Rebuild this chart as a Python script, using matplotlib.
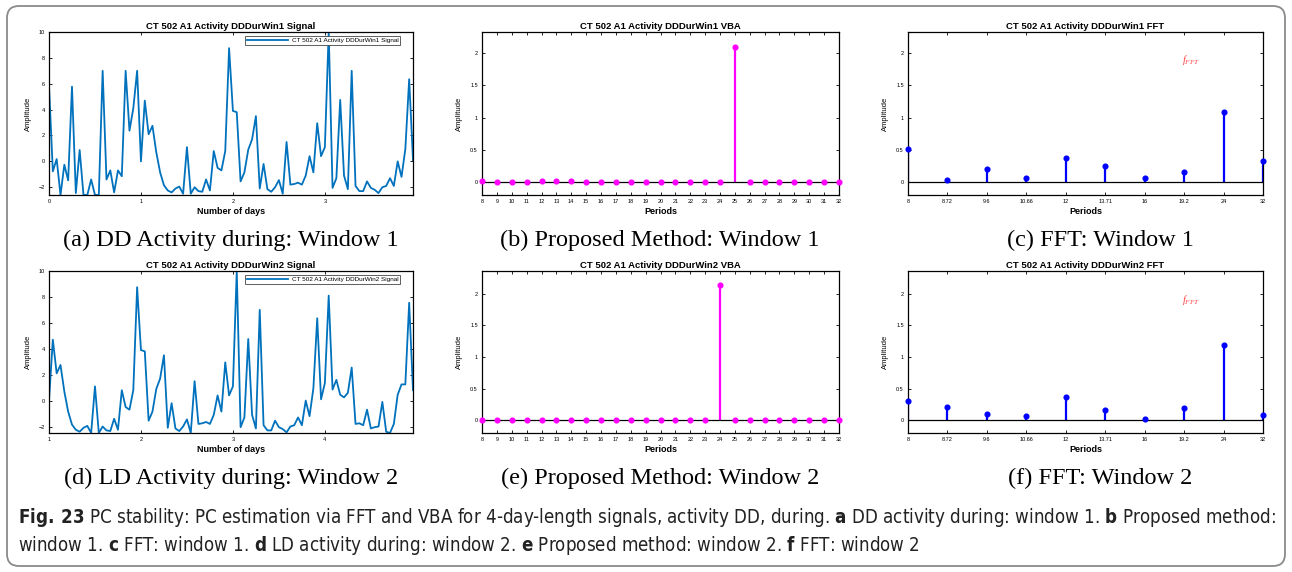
import matplotlib

matplotlib.use("Agg")
import matplotlib.pyplot as plt
import numpy as np
from matplotlib import font_manager
from matplotlib.patches import FancyBboxPatch
from matplotlib.transforms import IdentityTransform

W, H = 1292, 572

# 시간당 활동량 (샘플 0..119). 창1 = 0..95, 창2 = 24..119 (하루 밀림)
SIGNAL = [
    5.85, -0.77, 0.18, -2.6, -0.26, -1.47, 5.77, -2.45, 0.88, -2.6, -2.6, -1.4,
    -2.6, -2.6, 7.0, -1.4, -0.7, -2.4, -0.7, -1.15, 7.0, 2.37, 4.1, 7.0,
    0.0, 4.7, 2.1, 2.75, 0.7, -0.85, -1.85, -2.25, -2.4, -2.1,
    -1.95, -2.5, 1.1, -2.5, -2.0, -2.3, -2.35, -1.4, -2.25, 0.8,
    -0.5, -0.7, 0.8, 8.75, 3.9, 3.8, -1.55, -0.85, 0.9, 1.7,
    3.5, -2.1, -0.2, -2.15, -2.35, -2.0, -1.45, -2.5, 1.5, -1.8,
    -1.75, -1.65, -1.8, -1.1, 0.4, -0.85, 2.95, 0.4, 1.1, 10.0,
    -2.05, -1.3, 4.75, -1.1, -2.15, 7.0, -1.9, -2.3, -2.3, -1.55,
    -2.05, -2.2, -2.45, -2.0, -1.9, -1.3, -1.9, 0.0, -1.2, 0.95,
    6.35, 0.1, 1.35, 8.1, 0.85, 1.6, 0.45, 0.25, 0.6, 2.55,
    -1.8, -1.75, -1.9, -0.7, -2.15, -2.05, -2.0, -0.1, -2.4, -2.5,
    -1.8, 0.45, 1.25, 1.25, 7.55, 0.8,
]
WIN_START = [0, 24]          # 창 시작 샘플
WIN_LEN = 96
SAMPLES_PER_DAY = 24

VBA_PERIODS = list(range(8, 33))
VBA_WIN1 = [0.01, 0, 0, 0, 0.01, 0.01, 0.01, 0, 0, 0, 0, 0, 0, 0, 0, 0, 0,
            2.1, 0, 0, 0, 0, 0, 0, 0]
VBA_WIN2 = [0.01, 0.01, 0.01, 0, 0.01, 0, 0, 0, 0, 0, 0, 0, 0, 0, 0, 0,
            2.14, 0, 0, 0, 0, 0, 0, 0, 0]
VBA_YTOP = [2.33, 2.36]

FFT_PERIODS = ["8", "8.72", "9.6", "10.66", "12", "13.71", "16", "19.2", "24", "32"]
FFT_WIN1 = [0.515, 0.03, 0.2, 0.07, 0.375, 0.245, 0.057, 0.15, 1.09, 0.33]
FFT_WIN2 = [0.3, 0.21, 0.095, 0.07, 0.366, 0.165, 0.027, 0.196, 1.19, 0.085]

SUBCAPS = [
    ["(a) DD Activity during: Window 1", "(b) Proposed Method: Window 1", "(c) FFT: Window 1"],
    ["(d) LD Activity during: Window 2", "(e) Proposed Method: Window 2", "(f) FFT: Window 2"],
]

# 캡션 글꼴: 좁은 글꼴이 있으면 그걸로
fonts = font_manager.fontManager.ttflist
names = {f.name for f in fonts}
if "Liberation Sans Narrow" in names:
    CAP_FONT, CAP_STRETCH = "Liberation Sans Narrow", "normal"
elif any(f.name == "DejaVu Sans" and f.stretch == "condensed" for f in fonts):
    CAP_FONT, CAP_STRETCH = "DejaVu Sans", "condensed"
else:
    CAP_FONT, CAP_STRETCH = "DejaVu Sans", "normal"

plt.rcParams["font.family"] = ["Liberation Sans", "DejaVu Sans"]
plt.rcParams["mathtext.fontset"] = "custom"
plt.rcParams["mathtext.it"] = "Liberation Serif:italic"
plt.rcParams["mathtext.rm"] = "Liberation Serif"
plt.rcParams["mathtext.bf"] = f"{CAP_FONT}:weight=bold:stretch={CAP_STRETCH}"

fig = plt.figure(figsize=(W / 100, H / 100), dpi=100)


def px_axes(left, top, right, bottom):
    return fig.add_axes([left / W, 1 - bottom / H, (right - left) / W, (bottom - top) / H])


def matlab_style(ax):
    ax.tick_params(direction="in", top=True, right=True, labelsize=4, length=2.5,
                   width=0.6, pad=3)
    for s in ax.spines.values():
        s.set_linewidth(0.9)


def labels(ax, title, xlabel):
    ax.set_title(title, fontsize=6.8, fontweight="bold", pad=2)
    ax.set_xlabel(xlabel, fontsize=6.5, fontweight="bold", labelpad=2)
    ax.set_ylabel("Amplitude", fontsize=5.5, labelpad=5)


COLS = [(49, 413), (482, 839), (908, 1263)]
ROWS = [(32, 195), (271, 433)]

for r in range(2):
    top, bottom = ROWS[r]
    win = r + 1

    # 신호
    ax = px_axes(COLS[0][0], top, COLS[0][1], bottom)
    s0 = WIN_START[r]
    y = np.array(SIGNAL[s0:s0 + WIN_LEN])
    t = (s0 + np.arange(WIN_LEN)) / SAMPLES_PER_DAY
    ax.plot(t, y, color="#0072BD", lw=1.3, label=f"CT 502 A1 Activity DDDurWin{win} Signal")
    ax.set_xlim(t[0], t[-1])
    ax.set_ylim(y.min(), 10)
    ax.set_xticks(np.arange(np.ceil(t[0]), t[-1], 1))
    ax.set_yticks(range(-2, 11, 2))
    matlab_style(ax)
    labels(ax, f"CT 502 A1 Activity DDDurWin{win} Signal", "Number of days")
    leg = ax.legend(loc="upper right", bbox_to_anchor=(0.964, 0.975), borderaxespad=0,
                    fontsize=4.6, handlelength=6.5, fancybox=False, edgecolor="#444444",
                    borderpad=0.25, framealpha=1, handletextpad=0.5)
    leg.get_frame().set_linewidth(0.6)

    # 제안 방법 (VBA)
    ax = px_axes(COLS[1][0], top, COLS[1][1], bottom)
    vals = VBA_WIN1 if r == 0 else VBA_WIN2
    ml, sl, bl = ax.stem(VBA_PERIODS, vals, linefmt="-", markerfmt="o", basefmt=" ")
    plt.setp(sl, color="#FF00FF", lw=1.6)
    plt.setp(ml, color="#FF00FF", markersize=3.4, clip_on=False, zorder=5)
    ax.axhline(0, color="black", lw=0.9)
    ax.set_xlim(8, 32)
    ax.set_ylim(-0.2, VBA_YTOP[r])
    ax.set_xticks(VBA_PERIODS)
    ax.set_yticks([0, 0.5, 1, 1.5, 2])
    ax.set_yticklabels(["0", "0.5", "1", "1.5", "2"])
    matlab_style(ax)
    labels(ax, f"CT 502 A1 Activity DDDurWin{win} VBA", "Periods")

    # FFT
    ax = px_axes(COLS[2][0], top, COLS[2][1], bottom)
    vals = FFT_WIN1 if r == 0 else FFT_WIN2
    xs = np.arange(len(FFT_PERIODS))
    ml, sl, bl = ax.stem(xs, vals, linefmt="-", markerfmt="o", basefmt=" ")
    plt.setp(sl, color="#0000FF", lw=1.6)
    plt.setp(ml, color="#0000FF", markersize=3.4, clip_on=False, zorder=5)
    ax.axhline(0, color="black", lw=0.9)
    ax.set_xlim(0, len(FFT_PERIODS) - 1)
    ax.set_ylim(-0.2, VBA_YTOP[r])
    ax.set_xticks(xs)
    ax.set_xticklabels(FFT_PERIODS)
    ax.set_yticks([0, 0.5, 1, 1.5, 2])
    ax.set_yticklabels(["0", "0.5", "1", "1.5", "2"])
    matlab_style(ax)
    ax.text(6.95, 1.9, r"$f_{FFT}$", color="#ff4040", fontsize=7.5, ha="left", va="center")
    labels(ax, f"CT 502 A1 Activity DDDurWin{win} FFT", "Periods")

# 부제목
SUB_Y = [240, 478]
SUB_X = [231, 660, 1100]
for r in range(2):
    for c in range(3):
        fig.text(SUB_X[c] / W, 1 - SUB_Y[r] / H, SUBCAPS[r][c], ha="center", va="center",
                 family="Liberation Serif", fontsize=17.5)

# 캡션
CAPTION = [
    r"$\mathbf{Fig.\ 23}$ PC stability: PC estimation via FFT and VBA for 4-day-length signals, "
    r"activity DD, during. $\mathbf{a}$ DD activity during: window 1. $\mathbf{b}$ Proposed method:",
    r"window 1. $\mathbf{c}$ FFT: window 1. $\mathbf{d}$ LD activity during: window 2. "
    r"$\mathbf{e}$ Proposed method: window 2. $\mathbf{f}$ FFT: window 2",
]
cap_texts = []
for i, line in enumerate(CAPTION):
    cap_texts.append(fig.text(18 / W, 1 - (523 + 28 * i) / H, line, ha="left", va="baseline",
                              family=CAP_FONT, stretch=CAP_STRETCH, fontsize=11,
                              color="#222222"))
# 첫 줄이 원본처럼 x=18..1275 를 채우도록 글자 크기 맞춤
renderer = fig.canvas.get_renderer()
w0 = cap_texts[0].get_window_extent(renderer).width
size = 11 * (1275 - 18) / w0
for tx in cap_texts:
    tx.set_fontsize(size)

# 바깥 둥근 테두리
box = FancyBboxPatch((7, 6), W - 14, H - 12, boxstyle="round,pad=0,rounding_size=12",
                     transform=IdentityTransform(), facecolor="none",
                     edgecolor="#8a8a8a", lw=1.3)
fig.patches.append(box)

fig.savefig("out.png", dpi=100)
